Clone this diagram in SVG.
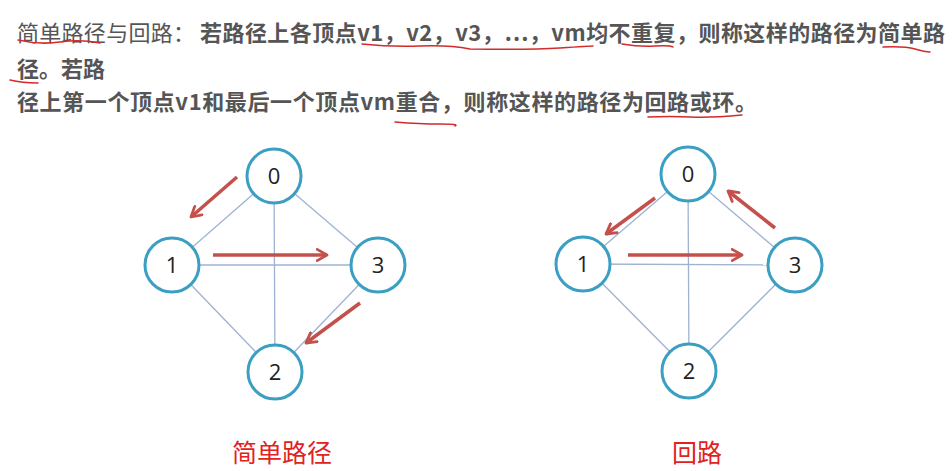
<svg xmlns="http://www.w3.org/2000/svg" width="952" height="471" viewBox="0 0 952 471">
<style>
.t{font-family:"Noto Sans CJK SC","Noto Sans",sans-serif;font-size:22px;fill:#555555}
.b{font-weight:bold}
.ul{fill:none;stroke:#d42a2a;stroke-width:1.5;stroke-linecap:round}
.edge{stroke:#9fb2d2;stroke-width:1.3;fill:none}
.node circle{fill:#ffffff;stroke:#3b9fc3;stroke-width:3}
.node text{font-family:"Open Sans","Liberation Sans",sans-serif;font-size:22px;fill:#222222;text-anchor:middle}
.arr{stroke:#c4504c;stroke-width:3.5;fill:none;marker-end:url(#ah)}
.cap{font-family:"Noto Sans CJK SC",sans-serif;font-size:25px;fill:#e02222}
</style>
<defs>
<marker id="ah" viewBox="0 0 10 10" refX="8" refY="5" markerWidth="4" markerHeight="4" orient="auto" markerUnits="strokeWidth">
<path d="M1,1 L8,5 L1,9" fill="none" stroke="#c4504c" stroke-width="2" stroke-linecap="round" stroke-linejoin="round"/>
</marker>
</defs>
<rect width="952" height="471" fill="#ffffff"/>
<g id="text">
<text class="t" x="17" y="41" textLength="178" lengthAdjust="spacing">简单路径与回路：</text>
<text class="t b" x="200" y="41" textLength="745" lengthAdjust="spacing"><tspan>若路径上各顶点</tspan><tspan>v1，v2，v3，…，vm</tspan><tspan>均不重复，</tspan><tspan>则称这样的路径为</tspan><tspan>简单路</tspan></text>
<text class="t b" y="77" x="17"><tspan>径。</tspan><tspan>若路</tspan></text>
<text class="t b" x="17" y="110" textLength="740" lengthAdjust="spacing"><tspan>径上第一个顶点v1</tspan><tspan>和最后一个顶点vm</tspan><tspan>重合，</tspan><tspan>则称这样的路径为</tspan><tspan>回路或环。</tspan></text>
</g>
<g id="underlines">
<path class="ul" d="M18,40 Q40,45 60,42 T100,43"/>
<path class="ul" d="M362,44 Q390,47 420,46 T470,49 Q530,50 560,48 T593,46"/>
<path class="ul" d="M622,44 Q640,47 655,46 T673,47"/>
<path class="ul" d="M883,47 Q905,46 915,49 T930,52"/>
<path class="ul" d="M10,80 Q22,83 38,83"/>
<path class="ul" d="M395,122 Q420,124 440,124 T455,126"/>
<path class="ul" d="M648,117 Q670,116 690,117 T742,115"/>
</g>
<g id="connectors">
<line class="edge" x1="274" y1="176" x2="172" y2="265"/>
<line class="edge" x1="274" y1="176" x2="378" y2="265"/>
<line class="edge" x1="274" y1="176" x2="275" y2="372"/>
<line class="edge" x1="172" y1="265" x2="378" y2="265"/>
<line class="edge" x1="172" y1="265" x2="275" y2="372"/>
<line class="edge" x1="378" y1="265" x2="275" y2="372"/>
<line class="edge" x1="688" y1="174" x2="583" y2="264"/>
<line class="edge" x1="688" y1="174" x2="795" y2="265"/>
<line class="edge" x1="688" y1="174" x2="689" y2="371"/>
<line class="edge" x1="583" y1="264" x2="795" y2="265"/>
<line class="edge" x1="583" y1="264" x2="689" y2="371"/>
<line class="edge" x1="795" y1="265" x2="689" y2="371"/>
<line class="arr" x1="237" y1="177" x2="191" y2="217"/>
<line class="arr" x1="213" y1="255" x2="327" y2="255"/>
<line class="arr" x1="360" y1="303" x2="306" y2="343"/>
<line class="arr" x1="655" y1="198" x2="606" y2="234"/>
<line class="arr" x1="628" y1="255" x2="742" y2="255"/>
<line class="arr" x1="775" y1="228" x2="728" y2="191"/>
</g>
<g id="L0" class="node"><circle cx="274" cy="176" r="27"/><text x="274" y="184">0</text></g>
<g id="L1" class="node"><circle cx="172" cy="265" r="27"/><text x="172" y="273">1</text></g>
<g id="L3" class="node"><circle cx="378" cy="265" r="27"/><text x="378" y="273">3</text></g>
<g id="L2" class="node"><circle cx="275" cy="372" r="27"/><text x="275" y="380">2</text></g>
<g id="R0" class="node"><circle cx="688" cy="174" r="27"/><text x="688" y="182">0</text></g>
<g id="R1" class="node"><circle cx="583" cy="264" r="27"/><text x="583" y="272">1</text></g>
<g id="R3" class="node"><circle cx="795" cy="265" r="27"/><text x="795" y="273">3</text></g>
<g id="R2" class="node"><circle cx="689" cy="371" r="27"/><text x="689" y="379">2</text></g>
<g id="captions">
<text class="cap" x="232" y="462">简单路径</text>
<text class="cap" x="672" y="462">回路</text>
</g>
</svg>
